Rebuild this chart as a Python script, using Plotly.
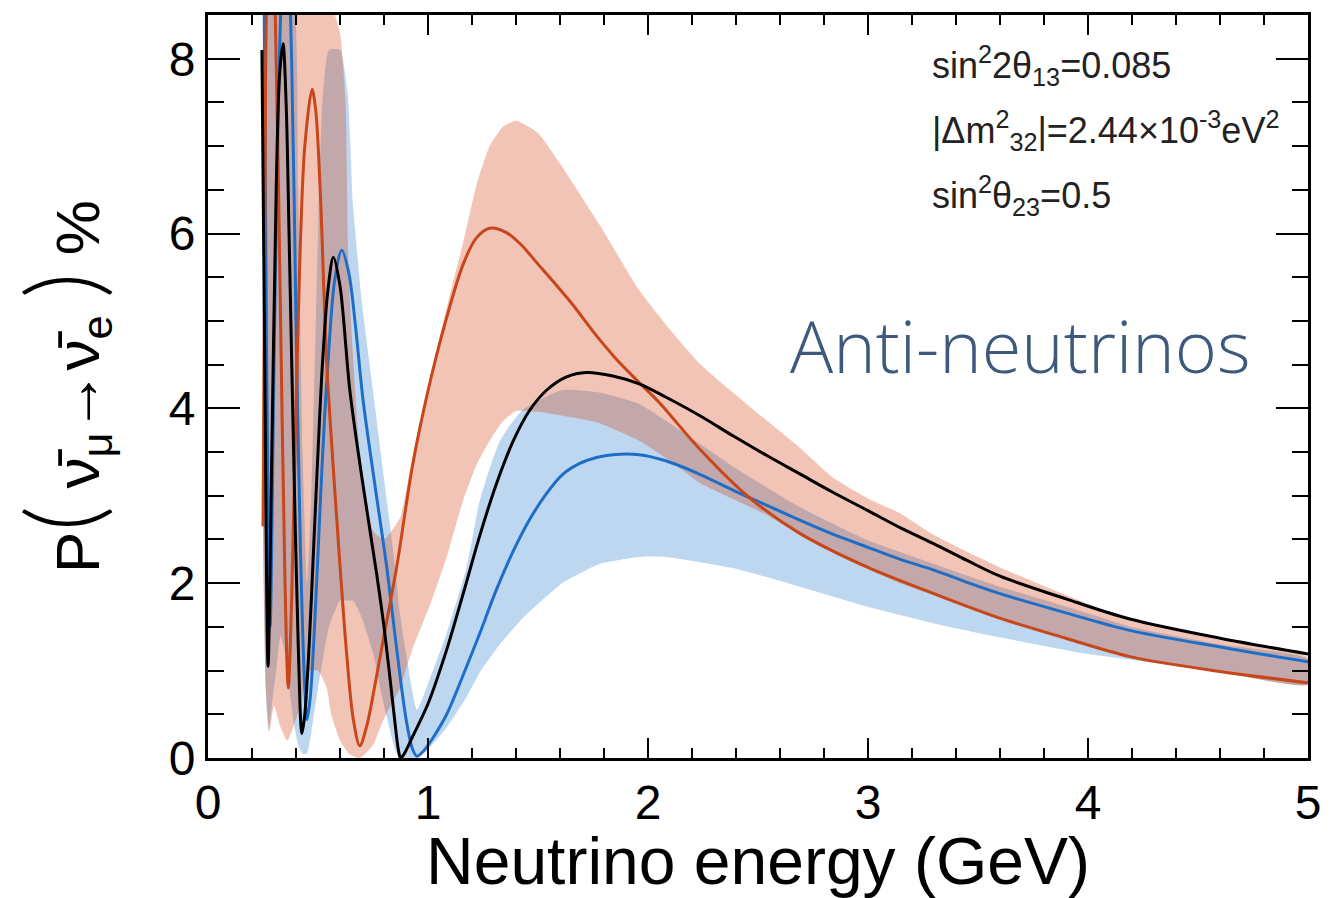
import plotly.graph_objects as go

# ---------------- data ----------------
# central curves: neutrino energy (GeV) and probability (%)
black_E = [0.245, 0.258, 0.273, 0.29, 0.31, 0.325, 0.341, 0.355, 0.37, 0.39, 0.41, 0.427,
           0.44, 0.46, 0.48, 0.50, 0.52, 0.545, 0.570, 0.60, 0.645, 0.70, 0.767, 0.80, 0.83,
           0.85, 0.865, 0.875, 0.89, 0.933, 1.0, 1.085, 1.16, 1.236, 1.31, 1.388, 1.46, 1.54,
           1.63, 1.72, 1.84, 1.96, 2.08, 2.24, 2.39, 2.54, 2.69, 2.84, 3.0, 3.15, 3.3, 3.45,
           3.6, 3.9, 4.19, 4.6, 5.0]
black_P = [8.10, 4.5, 1.05, 3.5, 6.5, 7.8, 8.17, 7.5, 5.8, 3.4, 1.3, 0.28,
           0.5, 1.3, 2.4, 3.5, 4.5, 5.35, 5.73, 5.4, 4.2, 3.2, 2.1, 1.5, 0.85,
           0.4, 0.1, 0.0, 0.04, 0.26, 0.62, 1.24, 1.88, 2.55, 3.13, 3.63, 3.97, 4.21,
           4.36, 4.41, 4.37, 4.28, 4.13, 3.91, 3.68, 3.46, 3.25, 3.04, 2.83, 2.63, 2.45, 2.26,
           2.08, 1.82, 1.59, 1.37, 1.19]

blue_E = [0.255, 0.265, 0.282, 0.30, 0.32, 0.34, 0.36, 0.38, 0.40, 0.42, 0.44, 0.45,
          0.465, 0.49, 0.51, 0.53, 0.55, 0.575, 0.608, 0.64, 0.67, 0.705, 0.76, 0.812, 0.86,
          0.90, 0.93, 0.95, 0.98, 1.02, 1.085, 1.16, 1.236, 1.31, 1.39, 1.46, 1.54, 1.61,
          1.69, 1.77, 1.84, 1.96, 2.08, 2.24, 2.39, 2.54, 2.69, 2.84, 3.0, 3.15, 3.3, 3.45,
          3.6, 3.9, 4.19, 4.6, 5.0]
blue_P = [8.7, 5.0, 1.5, 4.5, 7.5, 9.0, 9.3, 8.0, 5.0, 2.4, 0.8, 0.44,
          0.7, 1.8, 2.9, 3.9, 4.7, 5.45, 5.81, 5.55, 4.95, 4.09, 3.1, 2.19, 1.2,
          0.45, 0.1, 0.02, 0.08, 0.22, 0.5, 0.95, 1.43, 1.92, 2.38, 2.72, 3.03, 3.24,
          3.37, 3.44, 3.47, 3.47, 3.40, 3.24, 3.06, 2.89, 2.72, 2.56, 2.41, 2.27, 2.15, 2.01,
          1.88, 1.66, 1.46, 1.27, 1.10]

orange_E = [0.250, 0.258, 0.266, 0.285, 0.305, 0.33, 0.35, 0.365, 0.38, 0.40, 0.42, 0.44,
            0.473, 0.49, 0.51, 0.54, 0.57, 0.60, 0.63, 0.66, 0.69, 0.72, 0.76, 0.80, 0.858,
            0.93, 1.0, 1.085, 1.16, 1.22, 1.28, 1.35, 1.42, 1.5, 1.58, 1.66, 1.75, 1.85, 1.95,
            2.05, 2.24, 2.46, 2.69, 3.0, 3.3, 3.6, 3.9, 4.19, 4.6, 5.0]
orange_P = [2.65, 6.0, 8.6, 9.8, 8.6, 5.0, 2.0, 0.8, 1.8, 4.0, 5.9, 7.0,
            7.65, 7.4, 6.5, 4.5, 3.3, 2.2, 1.2, 0.45, 0.14, 0.35, 0.85, 1.4, 2.19,
            3.35, 4.2, 5.04, 5.65, 5.95, 6.06, 6.02, 5.88, 5.65, 5.42, 5.18, 4.88, 4.58, 4.32,
            4.07, 3.52, 2.98, 2.57, 2.18, 1.88, 1.60, 1.37, 1.16, 0.99, 0.86]

# uncertainty bands: energy, lower edge, upper edge
blueband_E = [0.250, 0.262, 0.275, 0.29, 0.31, 0.33, 0.35, 0.37, 0.39, 0.41, 0.43, 0.45,
              0.47, 0.50, 0.52, 0.55, 0.60, 0.635, 0.66, 0.70, 0.75, 0.80, 0.85, 0.87, 0.90,
              0.95, 1.00, 1.085, 1.176, 1.236, 1.327, 1.43, 1.61, 1.78, 1.96, 2.08, 2.39,
              2.69, 3.0, 3.3, 3.6, 3.97, 4.2, 4.6, 5.0]
blueband_lo = [2.5, 0.8, 0.3, 0.6, 1.0, 1.4, 1.2, 0.8, 0.4, 0.15, 0.05, 0.05,
               0.3, 0.8, 1.1, 1.5, 1.8, 1.8, 1.8, 1.6, 1.2, 0.6, 0.1, 0.0, 0.0,
               0.0, 0.1, 0.35, 0.7, 0.98, 1.3, 1.6, 2.0, 2.22, 2.30, 2.30, 2.17,
               1.96, 1.73, 1.54, 1.38, 1.20, 1.12, 0.98, 0.84]
blueband_hi = [8.6, 8.6, 8.6, 8.6, 8.6, 8.6, 8.6, 8.6, 8.6, 6.5, 3.5, 2.0,
               3.0, 6.0, 7.5, 8.1, 8.1, 7.6, 6.3, 5.2, 4.2, 3.2, 2.2, 1.7, 1.2,
               0.55, 0.85, 1.43, 2.19, 2.95, 3.63, 3.98, 4.21, 4.18, 4.05, 3.86, 3.33,
               2.87, 2.49, 2.22, 1.96, 1.68, 1.50, 1.30, 1.13]

orangeband_E = [0.250, 0.262, 0.28, 0.30, 0.33, 0.36, 0.38, 0.42, 0.46, 0.50, 0.54, 0.56,
                0.60, 0.625, 0.64, 0.69, 0.75, 0.80, 0.873, 0.93, 1.009, 1.085, 1.16, 1.22,
                1.28, 1.34, 1.40, 1.50, 1.60, 1.69, 1.78, 1.96, 2.10, 2.24, 2.54, 2.69, 2.84,
                3.0, 3.145, 3.3, 3.6, 4.2, 4.6, 5.0]
orangeband_lo = [2.6, 0.8, 0.3, 0.6, 0.35, 0.2, 0.3, 0.6, 1.0, 1.0, 0.8, 0.5,
                 0.2, 0.1, 0.05, 0.0, 0.15, 0.45, 0.8, 1.25, 1.75, 2.3, 2.95, 3.35,
                 3.63, 3.85, 3.97, 3.96, 3.92, 3.88, 3.83, 3.63, 3.40, 3.14, 2.78, 2.55, 2.35,
                 2.16, 2.0, 1.86, 1.58, 1.14, 0.98, 0.84]
orangeband_hi = [8.6, 8.6, 8.6, 8.6, 8.6, 8.6, 8.6, 8.6, 8.6, 8.6, 8.6, 8.6,
                 8.3, 7.5, 5.5, 3.5, 2.6, 2.5, 2.75, 3.45, 4.35, 5.15, 5.9, 6.55,
                 7.0, 7.22, 7.29, 7.15, 6.8, 6.45, 6.1, 5.35, 4.9, 4.5, 3.86, 3.55, 3.21,
                 2.97, 2.80, 2.55, 2.18, 1.57, 1.35, 1.15]

x_ticks = [0, 1, 2, 3, 4, 5]
y_ticks = [0, 2, 4, 6, 8]

params = ["sin<sup>2</sup>2θ<sub>13</sub>=0.085",
          "|Δm<sup>2</sup><sub>32</sub>|=2.44×10<sup>-3</sup>eV<sup>2</sup>",
          "sin<sup>2</sup>θ<sub>23</sub>=0.5"]
params_y = [7.92, 7.18, 6.43]

# ---------------- figure ----------------
fig = go.Figure()


def band(E, lo, hi, color):
    return go.Scatter(x=E + E[::-1], y=hi + lo[::-1], mode="lines", fill="toself",
                      fillcolor=color, line=dict(width=0, shape="spline", smoothing=0.5),
                      hoverinfo="skip", showlegend=False)


fig.add_trace(band(blueband_E, blueband_lo, blueband_hi, "rgb(190,215,240)"))
fig.add_trace(band(orangeband_E, orangeband_lo, orangeband_hi, "rgba(208,58,12,0.30)"))

for E, P, col in [(blue_E, blue_P, "rgb(30,110,200)"),
                  (orange_E, orange_P, "rgb(200,70,25)"),
                  (black_E, black_P, "black")]:
    fig.add_trace(go.Scatter(x=E, y=P, mode="lines",
                             line=dict(color=col, width=3, shape="spline", smoothing=0.9),
                             showlegend=False, hoverinfo="skip"))

for txt, yy in zip(params, params_y):
    fig.add_annotation(x=3.28, y=yy, xref="x", yref="y", text=txt, showarrow=False,
                       xanchor="left", yanchor="middle",
                       font=dict(family="Liberation Sans, Arial, sans-serif", size=36, color="#222"))

fig.add_annotation(x=2.635, y=4.72, xref="x", yref="y", text="Anti-neutrinos", showarrow=False,
                   xanchor="left", yanchor="middle",
                   font=dict(family="Open Sans, Lato, sans-serif", size=72, weight=300, color="#3d5a7e"))

axis_common = dict(ticks="inside", tickcolor="black", tickwidth=2, mirror="allticks",
                   showline=True, linewidth=3, linecolor="black", showgrid=False, zeroline=False,
                   tickfont=dict(size=48, color="black"))

paren = '<span style="font-size:100px;font-family:Lato;font-weight:300">{}</span>'
ytitle = 'P' + paren.format('(') + ' ν̄<sub>μ</sub>→ν̄<sub>e</sub> ' + paren.format(')') + ' %'

fig.update_layout(
    width=1334, height=898,
    margin=dict(l=208, r=26, t=13, b=140),
    paper_bgcolor="white", plot_bgcolor="white",
    font=dict(family="Liberation Sans, Arial, Helvetica, sans-serif", color="black"),
    xaxis=dict(range=[0, 5], tickvals=x_ticks, ticklen=20,
               minor=dict(dtick=0.2, tick0=0, ticks="inside", ticklen=10, tickwidth=2,
                          tickcolor="black", showgrid=False),
               title=dict(text="Neutrino energy (GeV)", font=dict(size=66), standoff=2),
               **axis_common),
    yaxis=dict(range=[0, 8.5], tickvals=y_ticks, ticklen=32,
               minor=dict(dtick=0.5, tick0=0, ticks="inside", ticklen=16, tickwidth=2,
                          tickcolor="black", showgrid=False),
               title=dict(text=ytitle, font=dict(size=62), standoff=72),
               **axis_common),
)

fig.write_html("out.html", config={"displayModeBar": False},
               post_script="document.body.style.margin='0';")
